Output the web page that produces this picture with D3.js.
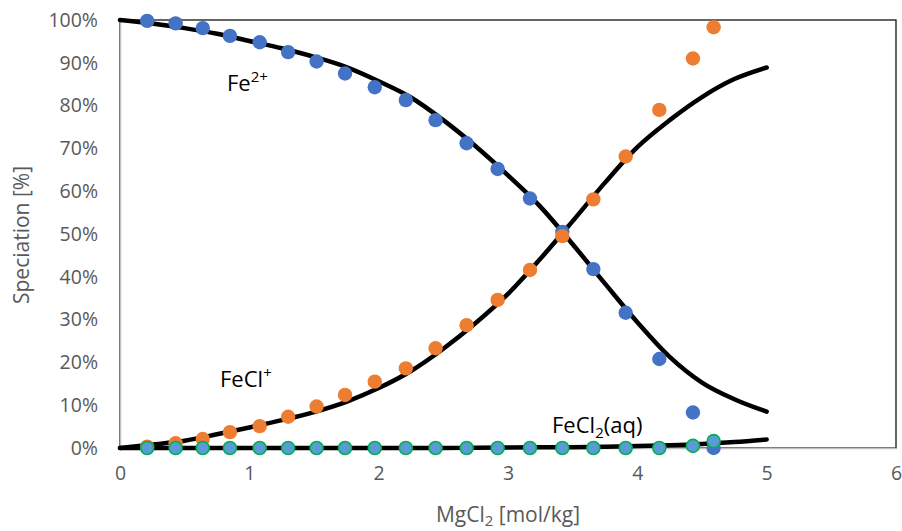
<!DOCTYPE html>
<html><head><meta charset="utf-8">
<script src="https://cdn.jsdelivr.net/npm/d3@7"></script>
<style>body{margin:0;background:#fff}svg{display:block}</style>
</head><body>
<svg id="c" width="902" height="531"></svg>
<script>
const xTicks = [0, 1, 2, 3, 4, 5, 6];
const yTicks = [0, 10, 20, 30, 40, 50, 60, 70, 80, 90, 100];
const dotX = [0.21, 0.43, 0.64, 0.85, 1.08, 1.30, 1.52, 1.74, 1.97, 2.21, 2.44, 2.68, 2.92, 3.17, 3.42, 3.66, 3.91, 4.17, 4.43, 4.59];
const fe2Dots = [99.8, 99.2, 98.1, 96.3, 94.8, 92.5, 90.3, 87.5, 84.3, 81.3, 76.6, 71.2, 65.2, 58.3, 50.5, 41.8, 31.6, 20.8, 8.3, 0];
const feclDots = [0.3, 1.1, 2.1, 3.7, 5.1, 7.3, 9.7, 12.4, 15.5, 18.6, 23.3, 28.7, 34.6, 41.6, 49.5, 58.1, 68.1, 79.0, 91.0, 98.3];
const fecl2Dots = [0, 0, 0, 0, 0, 0, 0, 0, 0, 0, 0, 0, 0, 0, 0, 0, 0, 0, 0.5, 1.6];
const curveX = [0, 0.25, 0.5, 0.75, 1, 1.25, 1.5, 1.75, 2, 2.25, 2.5, 2.75, 3, 3.25, 3.5, 3.75, 4, 4.25, 4.5, 4.75, 5];
const fe2Curve = [100, 99.2, 98.1, 96.8, 95.1, 93.4, 91.4, 89.0, 85.7, 81.9, 76.6, 70.5, 63.7, 56.4, 47.6, 38.4, 29.4, 21.3, 15.3, 11.4, 8.5];
const feclCurve = [0, 0.8, 1.7, 3.2, 4.8, 6.5, 8.4, 10.8, 14.0, 18.0, 23.2, 29.2, 36.0, 44.2, 53.0, 62.0, 70.3, 76.6, 82.0, 86.2, 88.9];
const fecl2Curve = [0, 0, 0, 0, 0, 0, 0, 0, 0, 0, 0, 0.05, 0.1, 0.15, 0.2, 0.3, 0.45, 0.65, 0.95, 1.4, 2.0];

const FONT = "'Open Sans', 'DejaVu Sans', sans-serif";
const svg = d3.select('#c');
const x = d3.scaleLinear().domain([0, 6]).range([120, 896]);
const y = d3.scaleLinear().domain([0, 100]).range([448, 20]);

// plot border
svg.append('rect').attr('x', 120).attr('y', 20).attr('width', 776).attr('height', 428)
  .attr('fill', 'none').attr('stroke', '#000').attr('stroke-width', 1.2);

// axes
const xa = svg.append('g').attr('transform', 'translate(0,448)')
  .call(d3.axisBottom(x).tickValues(xTicks).tickSize(0).tickPadding(18).tickFormat(d3.format('d')));
const ya = svg.append('g').attr('transform', 'translate(120,0)')
  .call(d3.axisLeft(y).tickValues(yTicks).tickSize(0).tickPadding(22).tickFormat(d => d + '%'));
[xa, ya].forEach(a => {
  a.select('.domain').attr('stroke', '#bfbfbf').attr('stroke-width', 1.5);
  a.selectAll('text').attr('fill', '#595959').style('font-family', FONT).style('font-size', '19.5px');
});

// curves
const line = d3.line().x(d => x(d[0])).y(d => y(d[1])).curve(d3.curveMonotoneX);
[fe2Curve, feclCurve, fecl2Curve].forEach(arr => {
  svg.append('path').attr('d', line(curveX.map((v, i) => [v, arr[i]])))
    .attr('fill', 'none').attr('stroke', '#000').attr('stroke-width', 4.5)
    .attr('stroke-linecap', 'round').attr('stroke-linejoin', 'round');
});

// dots
function dots(arr, fill, stroke) {
  svg.append('g').selectAll('circle').data(dotX.map((v, i) => [v, arr[i]])).join('circle')
    .attr('cx', d => x(d[0])).attr('cy', d => y(d[1]))
    .attr('r', stroke ? 6.5 : 7.2).attr('fill', fill)
    .attr('stroke', stroke || 'none').attr('stroke-width', stroke ? 1.6 : 0);
}
dots(fe2Dots, '#4472C4');
dots(feclDots, '#ED7D31');
dots(fecl2Dots, '#5B9BD5', '#00B050');

// annotations
function label(px, py, parts) {
  const t = svg.append('text').attr('x', px).attr('y', py)
    .style('font-family', FONT).style('font-size', '22px').attr('fill', '#000');
  parts.forEach(p => {
    const s = t.append('tspan').text(p.t);
    if (p.dy) s.attr('dy', p.dy).style('font-size', '15px');
    if (p.back) s.attr('dy', p.back);
  });
}
label(227, 91, [{t: 'Fe'}, {t: '2+', dy: -9}]);
label(220, 387, [{t: 'FeCl'}, {t: '+', dy: -9}]);
label(552, 433, [{t: 'FeCl'}, {t: '2', dy: 5}, {t: '(aq)', back: -5}]);

// axis titles
const xt = svg.append('text').attr('x', 508).attr('y', 522).attr('text-anchor', 'middle')
  .style('font-family', FONT).style('font-size', '21px').attr('fill', '#595959');
xt.append('tspan').text('MgCl');
xt.append('tspan').text('2').attr('dy', 4).style('font-size', '15px');
xt.append('tspan').text(' [mol/kg]').attr('dy', -4);

svg.append('text').attr('transform', 'translate(29,235) rotate(-90)').attr('text-anchor', 'middle')
  .style('font-family', FONT).style('font-size', '21px').attr('fill', '#595959').text('Speciation [%]');
</script>
</body></html>
